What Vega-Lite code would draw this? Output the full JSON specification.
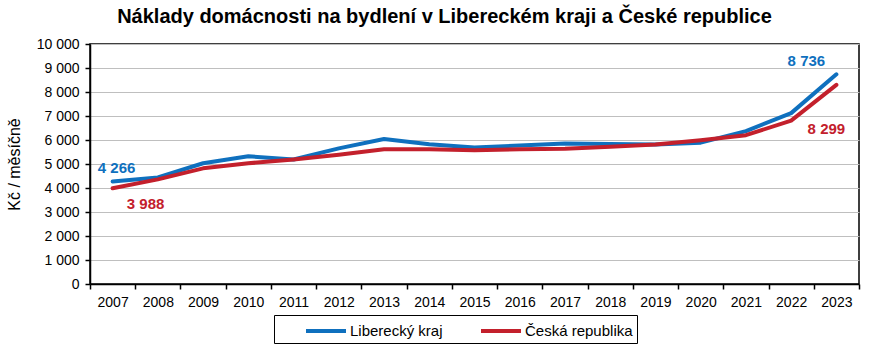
{
  "$schema": "https://vega.github.io/schema/vega-lite/v6.json",
  "width": 769,
  "height": 240,
  "autosize": {"type": "none"},
  "padding": {"left": 90, "top": 44, "right": 12, "bottom": 74},
  "title": {
    "text": "Náklady domácnosti na bydlení v Libereckém kraji a České republice",
    "font": "Liberation Sans",
    "fontSize": 20,
    "fontWeight": "bold",
    "color": "#000000",
    "anchor": "middle",
    "dx": -30,
    "offset": 10
  },
  "config": {
    "font": "Liberation Sans",
    "locale": {"number": {"decimal": ",", "thousands": " ", "grouping": [3], "currency": ["", " Kč"]}},
    "view": {"stroke": "#000000", "strokeWidth": 1.5},
    "axis": {
      "labelFont": "Liberation Sans",
      "labelFontSize": 14,
      "labelColor": "#000000",
      "titleFont": "Liberation Sans",
      "titleFontSize": 16,
      "titleFontWeight": "normal",
      "titleColor": "#000000",
      "domainColor": "#000000",
      "domainWidth": 1.5,
      "tickColor": "#000000",
      "tickWidth": 1.5
    }
  },
  "data": {
    "values": [
      {"rok": "2007", "serie": "Liberecký kraj", "hodnota": 4266},
      {"rok": "2008", "serie": "Liberecký kraj", "hodnota": 4440},
      {"rok": "2009", "serie": "Liberecký kraj", "hodnota": 5030},
      {"rok": "2010", "serie": "Liberecký kraj", "hodnota": 5320},
      {"rok": "2011", "serie": "Liberecký kraj", "hodnota": 5190},
      {"rok": "2012", "serie": "Liberecký kraj", "hodnota": 5650},
      {"rok": "2013", "serie": "Liberecký kraj", "hodnota": 6040},
      {"rok": "2014", "serie": "Liberecký kraj", "hodnota": 5820},
      {"rok": "2015", "serie": "Liberecký kraj", "hodnota": 5690},
      {"rok": "2016", "serie": "Liberecký kraj", "hodnota": 5770},
      {"rok": "2017", "serie": "Liberecký kraj", "hodnota": 5850},
      {"rok": "2018", "serie": "Liberecký kraj", "hodnota": 5830},
      {"rok": "2019", "serie": "Liberecký kraj", "hodnota": 5810},
      {"rok": "2020", "serie": "Liberecký kraj", "hodnota": 5890},
      {"rok": "2021", "serie": "Liberecký kraj", "hodnota": 6370},
      {"rok": "2022", "serie": "Liberecký kraj", "hodnota": 7120},
      {"rok": "2023", "serie": "Liberecký kraj", "hodnota": 8736},
      {"rok": "2007", "serie": "Česká republika", "hodnota": 3988},
      {"rok": "2008", "serie": "Česká republika", "hodnota": 4360},
      {"rok": "2009", "serie": "Česká republika", "hodnota": 4820},
      {"rok": "2010", "serie": "Česká republika", "hodnota": 5030},
      {"rok": "2011", "serie": "Česká republika", "hodnota": 5190},
      {"rok": "2012", "serie": "Česká republika", "hodnota": 5390},
      {"rok": "2013", "serie": "Česká republika", "hodnota": 5610},
      {"rok": "2014", "serie": "Česká republika", "hodnota": 5610},
      {"rok": "2015", "serie": "Česká republika", "hodnota": 5570},
      {"rok": "2016", "serie": "Česká republika", "hodnota": 5610},
      {"rok": "2017", "serie": "Česká republika", "hodnota": 5640},
      {"rok": "2018", "serie": "Česká republika", "hodnota": 5720},
      {"rok": "2019", "serie": "Česká republika", "hodnota": 5810},
      {"rok": "2020", "serie": "Česká republika", "hodnota": 5990},
      {"rok": "2021", "serie": "Česká republika", "hodnota": 6200},
      {"rok": "2022", "serie": "Česká republika", "hodnota": 6810},
      {"rok": "2023", "serie": "Česká republika", "hodnota": 8299}
    ]
  },
  "encoding": {
    "x": {
      "field": "rok",
      "type": "ordinal",
      "scale": {"type": "band", "paddingInner": 0, "paddingOuter": 0},
      "axis": {"title": null, "labelAngle": 0, "labelPadding": 6, "tickBand": "extent", "tickSize": 5, "grid": false}
    },
    "y": {
      "field": "hodnota",
      "type": "quantitative",
      "scale": {"domain": [0, 10000], "nice": false},
      "axis": {
        "title": "Kč / měsíčně",
        "titleFontSize": 16,
        "titlePadding": 14,
        "values": [0, 1000, 2000, 3000, 4000, 5000, 6000, 7000, 8000, 9000, 10000],
        "format": ",d",
        "tickSize": 5,
        "labelPadding": 6,
        "grid": true,
        "gridColor": "#bfbfbf",
        "gridWidth": 1
      }
    }
  },
  "layer": [
    {
      "mark": {"type": "line", "strokeWidth": 4, "strokeCap": "round", "strokeJoin": "round"},
      "encoding": {
        "color": {
          "field": "serie",
          "type": "nominal",
          "sort": ["Liberecký kraj", "Česká republika"],
          "scale": {"domain": ["Liberecký kraj", "Česká republika"], "range": ["#0f70be", "#c3202c"]},
          "legend": {
            "title": null,
            "orient": "none",
            "legendX": 184,
            "legendY": 271,
            "direction": "horizontal",
            "strokeColor": "#000000",
            "padding": 4,
            "symbolType": "M-2,0H2",
            "symbolSize": 400,
            "symbolStrokeWidth": 4,
            "symbolOffset": 36,
            "labelFont": "Liberation Sans",
            "labelFontSize": 15,
            "labelColor": "#000000",
            "labelOffset": 12,
            "columnPadding": 10
          }
        }
      }
    },
    {
      "transform": [{"filter": "datum.serie == 'Liberecký kraj' && datum.rok == '2007'"}],
      "mark": {"type": "text", "fontWeight": "bold", "fontSize": 15, "color": "#0f70be", "dx": 4, "dy": -14},
      "encoding": {"text": {"field": "hodnota", "type": "quantitative", "format": ",d"}}
    },
    {
      "transform": [{"filter": "datum.serie == 'Liberecký kraj' && datum.rok == '2023'"}],
      "mark": {"type": "text", "fontWeight": "bold", "fontSize": 15, "color": "#0f70be", "dx": -30, "dy": -13},
      "encoding": {"text": {"field": "hodnota", "type": "quantitative", "format": ",d"}}
    },
    {
      "transform": [{"filter": "datum.serie == 'Česká republika' && datum.rok == '2007'"}],
      "mark": {"type": "text", "fontWeight": "bold", "fontSize": 15, "color": "#c3202c", "dx": 33, "dy": 16},
      "encoding": {"text": {"field": "hodnota", "type": "quantitative", "format": ",d"}}
    },
    {
      "transform": [{"filter": "datum.serie == 'Česká republika' && datum.rok == '2023'"}],
      "mark": {"type": "text", "fontWeight": "bold", "fontSize": 15, "color": "#c3202c", "dx": -10, "dy": 44},
      "encoding": {"text": {"field": "hodnota", "type": "quantitative", "format": ",d"}}
    }
  ]
}
